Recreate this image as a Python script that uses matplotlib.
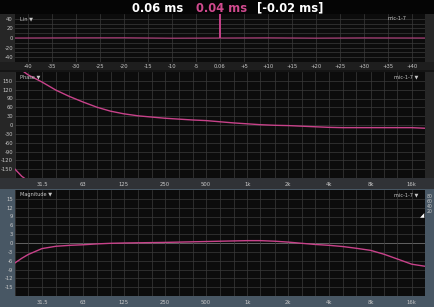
import matplotlib
matplotlib.use("Agg")
import matplotlib.pyplot as plt
from matplotlib.patches import Rectangle
import numpy as np

plt.rcParams["axes.unicode_minus"] = False

# ---------------- data ----------------
ir_time = [-43, -30, -20, -10, -0.1, 0.0, 0.1, 10, 20, 30, 43]          # ms, relative to 0.06 ms
ir_value = [0, 0.3, 0.4, -0.3, 0, 120, 0, 0.3, -0.2, 0.2, 0]

ir_ticks = [-40, -35, -30, -25, -20, -15, -10, -5, 0, 5, 10, 15, 20, 25, 30, 35, 40]
ir_tick_labels = ["-40", "-35", "-30", "-25", "-20", "-15", "-10", "-5", "0.06",
                  "+5", "+10", "+15", "+20", "+25", "+30", "+35", "+40"]

phase_freq = [20, 22.4, 25, 31.5, 40, 50, 63, 80, 100, 125, 160, 200, 250, 315, 400, 500,
              630, 800, 1000, 1250, 1600, 2000, 2500, 3150, 4000, 5000, 8000, 16000, 20000]
phase_deg = [210, 186, 170, 146, 118, 97, 78, 60, 47, 38, 31, 27, 23, 20, 17, 15,
             11, 7, 4, 1, -1, -2, -4, -6, -8, -9, -9, -9, -11]

mag_freq = [20, 22.4, 25, 31.5, 40, 50, 63, 80, 100, 125, 250, 500, 1000, 1250, 1600, 2000,
            2500, 3150, 4000, 5000, 6300, 8000, 10000, 12500, 16000, 20000]
mag_db = [-6.75, -5.2, -3.9, -1.9, -1.1, -0.8, -0.6, -0.3, -0.1, 0.0, 0.2, 0.5, 0.8, 0.8,
          0.6, 0.3, -0.1, -0.5, -0.8, -1.2, -1.8, -2.5, -3.8, -5.4, -7.2, -7.9]

freq_ticks = [31.5, 63, 125, 250, 500, 1000, 2000, 4000, 8000, 16000]
freq_labels = ["31.5", "63", "125", "250", "500", "1k", "2k", "4k", "8k", "16k"]
third_oct = [20, 25, 31.5, 40, 50, 63, 80, 100, 125, 160, 200, 250, 315, 400, 500, 630, 800,
             1000, 1250, 1600, 2000, 2500, 3150, 4000, 5000, 6300, 8000, 10000, 12500, 16000, 20000]

phase_ticks = [150, 120, 90, 60, 30, 0, -30, -60, -90, -120, -150]
mag_ticks = [15, 12, 9, 6, 3, 0, -3, -6, -9, -12, -15]
ir_yticks = [40, 20, 0, -20, -40]
right_scale = ["80", "60", "40", "20"]

# ---------------- style ----------------
W, H = 435, 307
CURVE = "#c8428a"
PLOT_BG = "#0c0c0c"
GRID = "#3a3a3a"
DARK = "#262626"
SLATE = "#485764"
TXT = "#c8c8c8"
FS = 3.8

fig = plt.figure(figsize=(W / 100, H / 100), dpi=100, facecolor=DARK)

def rect(x0, y0, x1, y1, color):
    fig.patches.append(Rectangle((x0 / W, 1 - y1 / H), (x1 - x0) / W, (y1 - y0) / H,
                                 transform=fig.transFigure, facecolor=color,
                                 edgecolor="none", zorder=-10))

rect(0, 0, W, 14, "#050505")      # top bar
rect(0, 62, W, 70, "#1e1e1e")     # IR x-label strip
rect(0, 70, W, 72, "#151515")
rect(0, 178, W, 189, "#303236")   # phase x-label strip
rect(0, 189, W, H, SLATE)         # magnitude area

def make_ax(top, bottom, left=15, right=425):
    ax = fig.add_axes([left / W, 1 - bottom / H, (right - left) / W, (bottom - top) / H])
    ax.set_zorder(2)
    ax.set_facecolor(PLOT_BG)
    for s in ax.spines.values():
        s.set_visible(False)
    ax.tick_params(length=0, labelsize=FS, colors=TXT, pad=1.5)
    return ax

# top bar texts
fig.text(158 / W, 1 - 8 / H, "0.06 ms", color="white", fontsize=8.3, fontweight="bold",
         ha="center", va="center")
fig.text(222 / W, 1 - 8 / H, "0.04 ms", color="#d04a8e", fontsize=8.3, fontweight="bold",
         ha="center", va="center")
fig.text(290 / W, 1 - 8 / H, "[-0.02 ms]", color="white", fontsize=8.3, fontweight="bold",
         ha="center", va="center")

# ---------- IR panel ----------
ax1 = make_ax(14, 62)
ax1.set_xlim(-42.7, 42.7)
ax1.set_ylim(-50, 50)
for y in range(-40, 50, 10):
    ax1.axhline(y, color=GRID, lw=0.5, zorder=0)
for x in ir_ticks:
    ax1.axvline(x, color=GRID, lw=0.5, zorder=0)
ax1.plot(ir_time, ir_value, color=CURVE, lw=0.7, zorder=3)
ax1.set_xticks(ir_ticks)
ax1.set_xticklabels(ir_tick_labels)
ax1.set_yticks(ir_yticks)
ax1.tick_params(axis="x", pad=1.5)
ax1.text(0.012, 0.9, "Lin \u25bc", transform=ax1.transAxes, color=TXT, fontsize=3.6,
         va="center", ha="left")
ax1.text(0.955, 0.9, "mic-1-7", transform=ax1.transAxes, color=TXT, fontsize=3.6,
         va="center", ha="right")

# ---------- Phase panel ----------
ax2 = make_ax(72, 178)
ax2.set_xscale("log")
ax2.set_xlim(20, 20000)
ax2.set_ylim(-180, 180)
for y in range(-150, 180, 30):
    ax2.axhline(y, color=GRID, lw=0.5, zorder=0)
for f in third_oct:
    ax2.axvline(f, color=GRID, lw=0.5, zorder=0)
ph = np.array(phase_deg, dtype=float)
ax2.plot(phase_freq, ph, color=CURVE, lw=1.0, zorder=3)
ax2.plot(phase_freq, ph - 360, color=CURVE, lw=1.0, zorder=3)
ax2.set_xticks(freq_ticks)
ax2.set_xticklabels(freq_labels)
ax2.xaxis.set_minor_locator(matplotlib.ticker.NullLocator())
ax2.set_yticks(phase_ticks)
ax2.tick_params(axis="x", pad=3)
ax2.text(0.012, 0.955, "Phase \u25bc", transform=ax2.transAxes, color=TXT, fontsize=3.6,
         va="center", ha="left")
ax2.text(0.985, 0.955, "mic-1-7 \u25bc", transform=ax2.transAxes, color=TXT, fontsize=3.6,
         va="center", ha="right")

# ---------- Magnitude panel ----------
ax3 = make_ax(190, 296)
ax3.set_xscale("log")
ax3.set_xlim(20, 20000)
ax3.set_ylim(-18, 18)
for y in range(-15, 18, 3):
    ax3.axhline(y, color="#707070" if y == 0 else GRID, lw=0.6 if y == 0 else 0.5, zorder=0)
for f in third_oct:
    ax3.axvline(f, color=GRID, lw=0.5, zorder=0)
ax3.plot(mag_freq, mag_db, color=CURVE, lw=1.0, zorder=3)
ax3.set_xticks(freq_ticks)
ax3.set_xticklabels(freq_labels)
ax3.xaxis.set_minor_locator(matplotlib.ticker.NullLocator())
ax3.set_yticks(mag_ticks)
ax3.tick_params(axis="x", pad=3)
ax3.text(0.012, 0.955, "Magnitude \u25bc", transform=ax3.transAxes, color=TXT, fontsize=3.6,
         va="center", ha="left")
ax3.text(0.985, 0.955, "mic-1-7 \u25bc", transform=ax3.transAxes, color=TXT, fontsize=3.6,
         va="center", ha="right")

for i, lab in enumerate(right_scale):
    fig.text(430 / W, 1 - (196 + i * 5.3) / H, lab, color=TXT, fontsize=3.3,
             ha="center", va="center")
fig.text(422 / W, 1 - 216 / H, "\u25e2", color="white", fontsize=4, ha="center", va="center")

fig.savefig("out.png", dpi=100, facecolor=fig.get_facecolor())
